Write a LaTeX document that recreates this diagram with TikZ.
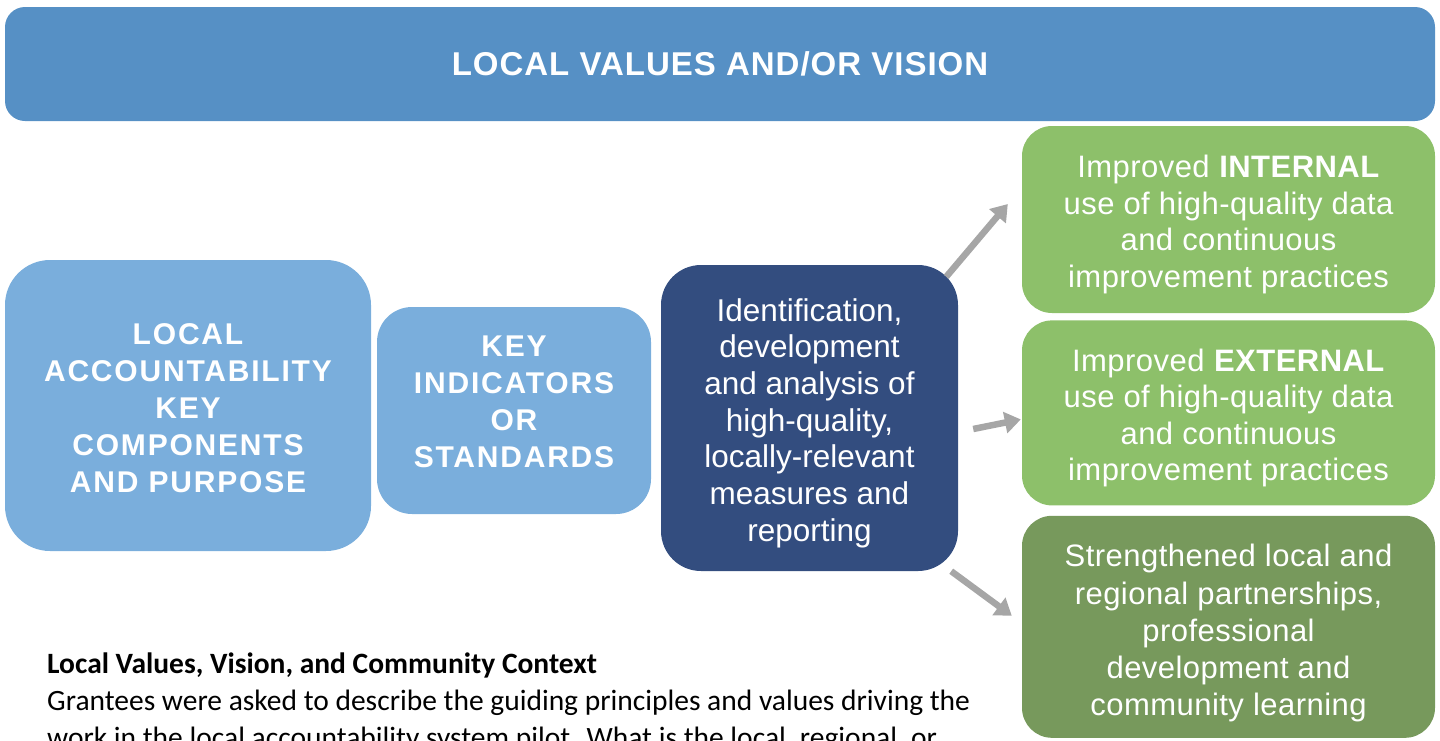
\documentclass[tikz,border=0pt]{standalone}
\usepackage{fontspec}
\setmainfont{Liberation Sans}
\newfontfamily\bodyfont{Carlito}
\usepackage{tikz}
\usetikzlibrary{arrows.meta,positioning}
\definecolor{topblue}{RGB}{86,144,197}
\definecolor{lightblue}{RGB}{122,174,220}
\definecolor{navyblue}{RGB}{51,77,127}
\definecolor{lightgreen}{RGB}{141,192,106}
\definecolor{darkgreen}{RGB}{119,153,92}
\definecolor{arrowgray}{RGB}{166,166,166}

\begin{document}
\begin{tikzpicture}
[x=1pt, y=-1pt,
banner/.style={rectangle, rounded corners=20pt, fill=topblue, text=white, font=\bfseries\fontsize{33}{40}\selectfont\addfontfeature{LetterSpace=3}, minimum width=1430pt, minimum height=114pt},
comp/.style={rectangle, fill=lightblue, text=white, align=center, font=\bfseries\fontsize{30}{37}\selectfont\addfontfeature{LetterSpace=6}, inner sep=0pt},
measure/.style={rectangle, rounded corners=40pt, fill=navyblue, text=white, align=center, font=\fontsize{31.5}{36.7}\selectfont, minimum width=297pt, minimum height=306pt, inner sep=0pt},
outcome/.style={rectangle, rounded corners=30pt, text=white, align=center, font=\fontsize{31}{36.5}\selectfont\addfontfeature{LetterSpace=1.5}, minimum width=413pt, inner sep=0pt},
flow/.style={draw=arrowgray, line width=6.5pt, -{Triangle[length=16pt,width=21pt]}}
]
\useasboundingbox (0,0) rectangle (1440,740);
\clip (0,0) rectangle (1440,740);

%Nodes
\node[banner]   (vision)    at (720,64)     {LOCAL VALUES AND/OR VISION};
\node[comp, rounded corners=45pt, minimum width=366pt, minimum height=291pt]
                (local)     at (188,405.5)  {\rule{0pt}{26.5pt}LOCAL\\ACCOUNTABILITY\\KEY\\COMPONENTS\\AND PURPOSE};
\node[comp, rounded corners=35pt, minimum width=274pt, minimum height=207pt]
                (key_ind)   at (514,410.5)  {KEY\\INDICATORS\\OR\\STANDARDS\rule[-18pt]{0pt}{18pt}};
\node[measure]  (ident)     at (809.5,418)  {\rule{0pt}{33pt}Identification,\\development\\and analysis of\\high-quality,\\locally-relevant\\measures and\\reporting};
\node[outcome, fill=lightgreen, minimum height=187pt]
                (int_use)   at (1228.5,219.5) {\rule{0pt}{32.6pt}Improved \textbf{INTERNAL}\\use of high-quality data\\and continuous\\improvement practices};
\node[outcome, fill=lightgreen, minimum height=185pt]
                (ext_use)   [below=7pt of int_use] {\rule{0pt}{32.6pt}Improved \textbf{EXTERNAL}\\use of high-quality data\\and continuous\\improvement practices};
\node[outcome, fill=darkgreen, minimum height=222pt, font=\fontsize{31}{37.2}\selectfont\addfontfeature{LetterSpace=1.5}]
                (partners)  [below=10pt of ext_use] {\rule{0pt}{35.6pt}Strengthened local and\\regional partnerships,\\professional\\development and\\community learning};
\node[anchor=base west, align=left, inner sep=0pt, font=\bodyfont\fontsize{29.5}{37}\selectfont]
                (context)   at (47,747)     {\textbf{Local Values, Vision, and Community Context}\\Grantees were asked to describe the guiding principles and values driving the\\work in the local accountability system pilot. What is the local, regional, or};

%Lines
\draw[flow] ([xshift=-12pt,yshift=-12pt]ident.north east) -- ([xshift=-14pt,yshift=15.5pt]int_use.west);
\draw[flow] ([xshift=15pt,yshift=-11pt]ident.east) -- ([xshift=-1pt,yshift=-6.5pt]ext_use.west);
\draw[flow] ([xshift=-7pt]ident.south east) -- ([xshift=-10pt,yshift=11pt]partners.west);
\end{tikzpicture}
\end{document}
